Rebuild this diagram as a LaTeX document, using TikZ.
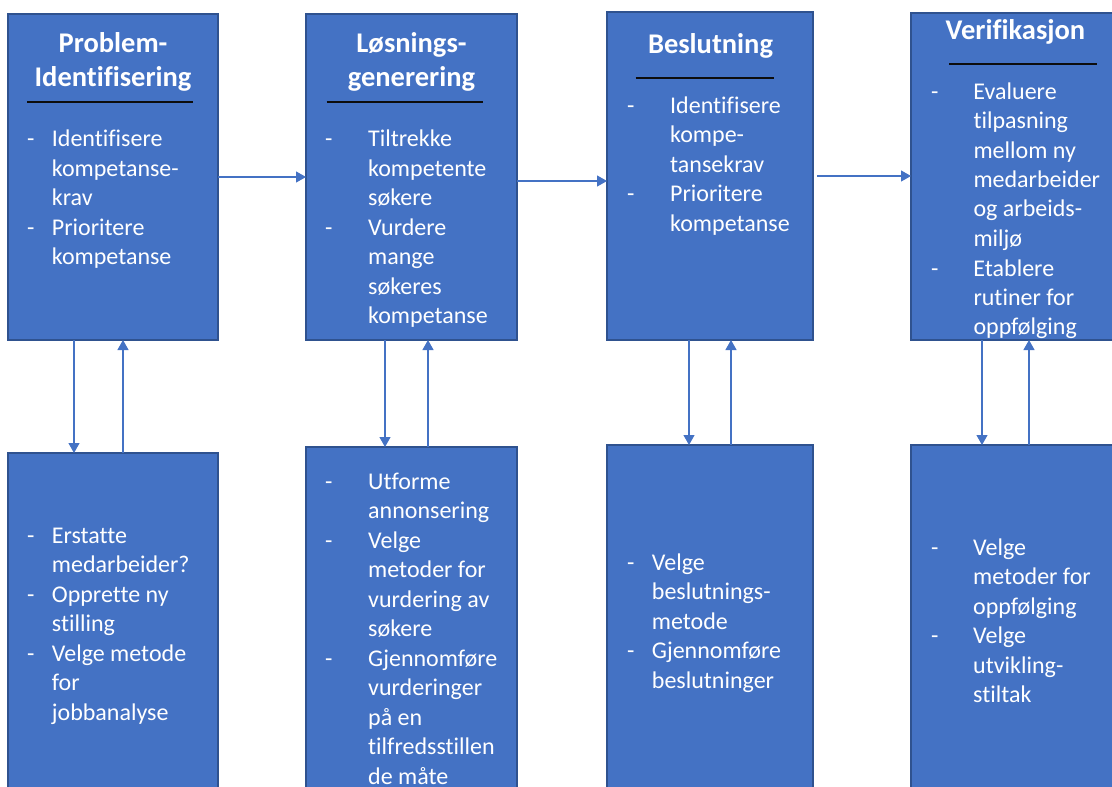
\documentclass[tikz,border=0pt]{standalone}
\usepackage{fontspec}
\setmainfont{Carlito}[Ligatures={NoCommon}]
\usetikzlibrary{arrows.meta}
\definecolor{boxfill}{HTML}{4472C4}
\definecolor{boxline}{HTML}{2F528F}
\definecolor{arrcol}{HTML}{4472C4}
\definecolor{rulecol}{HTML}{0D0D0D}
\newcommand{\bodyfont}{\fontsize{24}{29.5}\selectfont}
\newcommand{\titlefont}{\fontsize{28.5}{34.5}\selectfont\bfseries}
\begin{document}
\begin{tikzpicture}[x=1pt,y=-1pt,
  box/.style={draw=boxline, line width=1.5pt, fill=boxfill, rectangle, inner sep=0pt, outer sep=0pt, anchor=north west},
  arr/.style={draw=arrcol, line width=1.2pt, -{Triangle[length=10pt,width=11pt]}},
  rulel/.style={draw=rulecol, line width=2pt},
  title/.style={text=white, font=\titlefont, anchor=base, inner sep=0pt},
  body/.style={text=white, font=\bodyfont, anchor=base west, inner sep=0pt},
]
\useasboundingbox (0,0) rectangle (1112,787);
\clip (0,0) rectangle (1112,787);

% top boxes
\node[box, minimum width=210pt, minimum height=326pt] (b1) at (8,14) {};
\node[box, minimum width=211pt, minimum height=326pt] (b2) at (306,14) {};
\node[box, minimum width=206pt, minimum height=328pt] (b3) at (607,12) {};
\node[box, minimum width=209pt, minimum height=327pt] (b4) at (911,13) {};
% bottom boxes
\node[box, minimum width=210pt, minimum height=360pt] (b5) at (8,453) {};
\node[box, minimum width=211pt, minimum height=360pt] (b6) at (306,447) {};
\node[box, minimum width=206pt, minimum height=360pt] (b7) at (607,445) {};
\node[box, minimum width=209pt, minimum height=360pt] (b8) at (911,445) {};

% titles
\node[title] (t1) at (113,52.3) {\begin{tabular}[t]{@{}c@{}}Problem-\\Identifisering\end{tabular}};
\node[title] (t2) at (411.5,52.3) {\begin{tabular}[t]{@{}c@{}}Løsnings-\\generering\end{tabular}};
\node[title] (t3) at (710.5,53.3) {Beslutning};
\node[title] (t4) at (1015.5,39.3) {Verifikasjon};

% underlines
\draw[rulel] (27,101.5) -- (193,101.5);
\draw[rulel] (326.7,101.5) -- (482.7,101.5);
\draw[rulel] (635.7,77.5) -- (774,77.5);
\draw[rulel] (949,64) -- (1096.7,64);

% body texts
\node[body] (x1) at (27,146.7) {\begin{tabular}[t]{@{}p{24.7pt}@{}l@{}}
-&Identifisere\\ &kompetanse-\\ &krav\\ -&Prioritere\\ &kompetanse\end{tabular}};
\node[body] (x2) at (325,146.7) {\begin{tabular}[t]{@{}p{43pt}@{}l@{}}
-&Tiltrekke\\ &kompetente\\ &søkere\\ -&Vurdere\\ &mange\\ &søkeres\\ &kompetanse\end{tabular}};
\node[body] (x3) at (627,113.3) {\begin{tabular}[t]{@{}p{43pt}@{}l@{}}
-&Identifisere\\ &kompe-\\ &tansekrav\\ -&Prioritere\\ &kompetanse\end{tabular}};
\node[body] (x4) at (931,99) {\begin{tabular}[t]{@{}p{42.3pt}@{}l@{}}
-&Evaluere\\ &tilpasning\\ &mellom ny\\ &medarbeider\\ &og arbeids-\\ &miljø\\ -&Etablere\\ &rutiner for\\ &oppfølging\end{tabular}};
\node[body] (x5) at (27,543.3) {\begin{tabular}[t]{@{}p{24.7pt}@{}l@{}}
-&Erstatte\\ &medarbeider?\\ -&Opprette ny\\ &stilling\\ -&Velge metode\\ &for\\ &jobbanalyse\end{tabular}};
\node[body] (x6) at (325,489) {\begin{tabular}[t]{@{}p{43pt}@{}l@{}}
-&Utforme\\ &annonsering\\ -&Velge\\ &metoder for\\ &vurdering av\\ &søkere\\ -&Gjennomføre\\ &vurderinger\\ &på en\\ &tilfredsstillen\\ &de måte\end{tabular}};
\node[body] (x7) at (627,570) {\begin{tabular}[t]{@{}p{24.7pt}@{}l@{}}
-&Velge\\ &beslutnings-\\ &metode\\ -&Gjennomføre\\ &beslutninger\end{tabular}};
\node[body] (x8) at (931,555) {\begin{tabular}[t]{@{}p{42pt}@{}l@{}}
-&Velge\\ &metoder for\\ &oppfølging\\ -&Velge\\ &utvikling-\\ &stiltak\end{tabular}};

% horizontal arrows
\draw[arr] (b1.east) -- (b2.west);
\draw[arr] (b2.east |- 0,181) -- (b3.west |- 0,181);
\draw[arr] ([xshift=4pt]b3.east) -- (b4.west |- b3.east);

% vertical arrows
\draw[arr] (b1.south -| 74,0) -- (b5.north -| 74,0);
\draw[arr] (b5.north -| 123,0) -- (b1.south -| 123,0);
\draw[arr] (b2.south -| 385,0) -- (b6.north -| 385,0);
\draw[arr] (b6.north -| 428,0) -- (b2.south -| 428,0);
\draw[arr] (b3.south -| 689,0) -- (b7.north -| 689,0);
\draw[arr] (b7.north -| 731,0) -- (b3.south -| 731,0);
\draw[arr] (b4.south -| 982,0) -- (b8.north -| 982,0);
\draw[arr] (b8.north -| 1029,0) -- (b4.south -| 1029,0);
\end{tikzpicture}
\end{document}
